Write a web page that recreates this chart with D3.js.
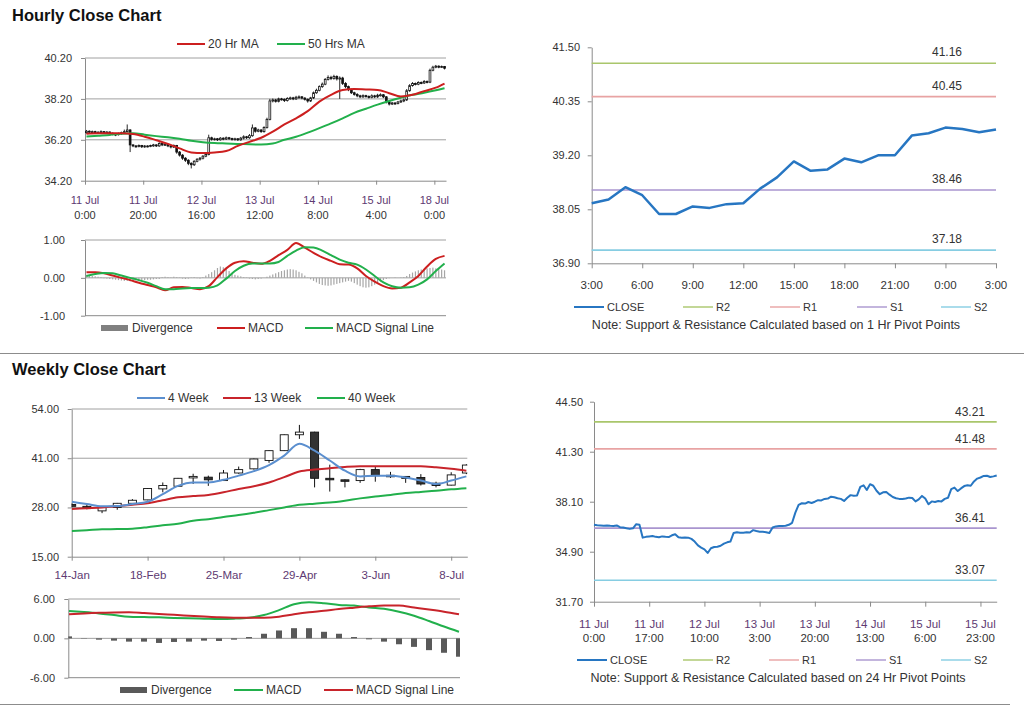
<!DOCTYPE html>
<html><head><meta charset="utf-8">
<script src="https://cdn.jsdelivr.net/npm/d3@7"></script>
<style>
body{margin:0;background:#fff;}
svg{display:block;font-family:Arial,"Liberation Sans",sans-serif;}
</style></head><body>
<svg id="c" width="1024" height="706"></svg>
<script>
// ---------- Hourly candle chart data (124 hourly bars) ----------
const hourOpen = [36.55,36.62,36.58,36.60,36.55,36.57,36.60,36.56,36.58,36.52,
36.48,36.45,36.50,36.55,36.60,36.68,35.95,35.90,35.88,35.92,
35.86,35.90,35.88,35.92,35.95,35.90,36.02,35.95,35.98,35.90,
35.85,35.92,35.60,35.45,35.30,35.20,35.05,34.98,35.15,35.25,
35.30,35.40,35.48,36.30,36.22,36.25,36.20,36.28,36.24,36.30,
36.26,36.22,36.25,36.20,36.28,36.35,36.30,36.40,36.78,36.62,
36.68,36.60,36.80,37.20,38.10,38.15,38.08,38.20,38.18,38.12,
38.22,38.25,38.20,38.28,38.30,38.24,38.18,38.10,38.25,38.50,
38.62,38.80,38.92,39.15,39.25,39.20,39.30,39.18,39.22,38.95,
38.80,38.65,38.50,38.42,38.35,38.30,38.36,38.32,38.28,38.35,
38.30,38.38,38.40,38.30,38.05,37.95,38.00,37.98,38.05,38.10,
38.15,38.60,38.85,38.95,38.92,39.00,38.98,39.05,39.02,39.60,
39.75,39.80,39.76,39.78];
const hourClose = [36.62,36.58,36.60,36.55,36.57,36.60,36.56,36.58,36.52,36.48,
36.45,36.50,36.55,36.60,36.68,35.95,35.90,35.88,35.92,35.86,
35.90,35.88,35.92,35.95,35.90,36.02,35.95,35.98,35.90,35.85,
35.92,35.60,35.45,35.30,35.20,35.05,34.98,35.15,35.25,35.30,
35.40,35.48,36.30,36.22,36.25,36.20,36.28,36.24,36.30,36.26,
36.22,36.25,36.20,36.28,36.35,36.30,36.40,36.78,36.62,36.68,
36.60,36.80,37.20,38.10,38.15,38.08,38.20,38.18,38.12,38.22,
38.25,38.20,38.28,38.30,38.24,38.18,38.10,38.25,38.50,38.62,
38.80,38.92,39.15,39.25,39.20,39.30,39.18,39.22,38.95,38.80,
38.65,38.50,38.42,38.35,38.30,38.36,38.32,38.28,38.35,38.30,
38.38,38.40,38.30,38.05,37.95,38.00,37.98,38.05,38.10,38.15,
38.60,38.85,38.95,38.92,39.00,38.98,39.05,39.02,39.60,39.75,
39.80,39.76,39.78,39.70];
const hourHigh = [36.68,36.66,36.65,36.64,36.62,36.66,36.63,36.62,36.61,36.56,
36.52,36.55,36.60,36.70,36.95,36.72,35.98,35.94,35.97,35.95,
35.94,35.93,35.96,36.00,35.98,36.08,36.05,36.03,36.01,35.94,
35.97,35.95,35.65,35.50,35.35,35.25,35.10,35.20,35.30,35.36,
35.45,35.55,36.45,36.35,36.30,36.29,36.33,36.32,36.36,36.34,
36.30,36.30,36.28,36.34,36.42,36.39,36.48,36.95,36.82,36.74,
36.72,36.86,37.28,38.20,38.22,38.20,38.26,38.25,38.22,38.28,
38.31,38.30,38.35,38.37,38.34,38.28,38.22,38.30,38.56,38.70,
38.86,39.00,39.22,39.35,39.33,39.38,39.35,39.30,39.28,39.02,
38.85,38.70,38.55,38.48,38.40,38.42,38.40,38.37,38.42,38.40,
38.45,38.47,38.44,38.34,38.08,38.05,38.04,38.10,38.16,38.22,
38.68,38.92,39.02,39.00,39.06,39.05,39.12,39.10,39.68,39.82,
39.86,39.84,39.83,39.81];
const hourLow = [36.50,36.53,36.54,36.50,36.51,36.52,36.50,36.52,36.46,36.42,
36.38,36.41,36.45,36.50,36.56,35.60,35.84,35.82,35.83,35.80,
35.81,35.83,35.84,35.86,35.85,35.86,35.89,35.90,35.84,35.78,
35.80,35.52,35.38,35.22,35.12,34.96,34.80,34.92,35.10,35.18,
35.24,35.35,35.44,36.16,36.17,36.14,36.16,36.18,36.19,36.20,
36.16,36.17,36.14,36.15,36.22,36.24,36.25,36.35,36.55,36.57,
36.54,36.55,36.75,37.15,38.03,38.02,38.03,38.12,38.05,38.07,
38.16,38.14,38.15,38.22,38.18,38.12,38.02,38.05,38.20,38.45,
38.57,38.74,38.87,39.10,39.12,39.14,39.10,38.20,38.88,38.72,
38.58,38.44,38.36,38.28,38.24,38.25,38.26,38.22,38.23,38.24,
38.25,38.32,38.24,37.98,37.88,37.90,37.91,37.93,38.00,38.04,
38.10,38.55,38.80,38.86,38.87,38.92,38.93,38.96,38.97,39.55,
39.70,39.70,39.71,39.64];
const hourTickIdx = [0,20,40,60,80,100,120];
const hourTickDate = ["11 Jul","11 Jul","12 Jul","13 Jul","14 Jul","15 Jul","18 Jul"];
const hourTickTime = ["0:00","20:00","16:00","12:00","8:00","4:00","0:00"];
const hourYTicks = [34.20,36.20,38.20,40.20];
const maIdx = [0,4,8,12,16,20,24,28,32,36,40,44,48,52,56,60,64,68,72,76,80,84,88,92,96,100,104,108,112,116,120,123];
const ma20 = [36.50,36.52,36.52,36.52,36.48,36.35,36.18,36.00,35.78,35.58,35.55,35.58,35.65,35.90,36.10,36.30,36.60,36.95,37.25,37.60,38.07,38.40,38.63,38.68,38.66,38.64,38.48,38.32,38.40,38.58,38.75,38.95];
const ma50 = [36.36,36.40,36.44,36.50,36.52,36.45,36.38,36.32,36.25,36.15,36.08,36.04,36.02,36.00,35.98,35.97,36.02,36.20,36.35,36.55,36.77,37.00,37.25,37.52,37.72,37.92,38.10,38.26,38.40,38.50,38.62,38.72];

// ---------- Hourly MACD ----------
const macdIdx = [0,3,6,9,12,15,18,21,24,27,30,33,36,39,42,45,48,51,54,57,60,63,66,69,72,75,78,81,84,87,90,93,96,99,102,105,108,111,114,117,120,123];
const hourMacd = [0.15,0.15,0.12,0.06,0.00,-0.06,-0.13,-0.19,-0.25,-0.33,-0.25,-0.24,-0.27,-0.30,-0.22,0.02,0.25,0.40,0.44,0.40,0.37,0.45,0.60,0.74,0.92,0.80,0.66,0.54,0.45,0.36,0.35,0.25,0.05,-0.10,-0.22,-0.28,-0.26,-0.12,0.05,0.30,0.50,0.58];
const hourSignal = [0.05,0.10,0.13,0.12,0.06,0.00,-0.06,-0.13,-0.22,-0.30,-0.30,-0.28,-0.27,-0.27,-0.26,-0.20,-0.02,0.18,0.32,0.38,0.38,0.38,0.42,0.58,0.72,0.81,0.80,0.72,0.60,0.48,0.40,0.35,0.22,0.05,-0.12,-0.22,-0.26,-0.25,-0.18,-0.04,0.18,0.38];
const hourDiv = [0.08,0.06,0.05,0.04,0.03,0.02,
-0.01,-0.02,-0.03,-0.04,-0.05,-0.06,-0.07,
-0.08,-0.08,-0.09,-0.08,-0.07,-0.07,-0.06,-0.06,-0.05,-0.05,-0.04,-0.03,-0.03,
0.02,0.03,0.02,0.01,0.03,0.02,0.01,-0.02,-0.03,-0.02,0.01,0.02,-0.01,-0.02,0.02,
0.06,0.10,0.15,0.20,0.26,0.30,0.28,0.24,0.18,0.12,
0.08,0.06,0.04,0.02,0.01,-0.02,-0.03,-0.04,
-0.03,-0.02,0.00,0.03,0.06,0.09,0.12,
0.15,0.18,0.20,0.22,0.23,0.22,0.20,0.16,0.12,0.06,0.01,-0.04,
-0.08,-0.12,-0.16,-0.19,-0.20,-0.21,-0.20,-0.18,-0.16,-0.14,-0.12,-0.10,-0.08,
-0.10,-0.14,-0.18,-0.22,-0.25,-0.26,-0.25,-0.22,-0.18,-0.14,-0.10,-0.06,-0.03,
-0.01,0.00,0.01,0.00,0.01,0.02,0.05,
0.10,0.14,0.17,0.20,0.22,0.24,0.25,0.26,0.27,0.25,0.24,0.22,0.20];
const hourMacdTicks = [-1,0,1];

// ---------- 1 Hr pivot chart ----------
const pivHourClose = [38.18,38.26,38.52,38.35,37.95,37.95,38.11,38.08,38.16,38.18,38.49,38.73,39.07,38.87,38.90,39.13,39.05,39.20,39.20,39.62,39.67,39.79,39.76,39.69,39.75];
const pivHourLabels = ["3:00","6:00","9:00","12:00","15:00","18:00","21:00","0:00","3:00"];
const pivHourTicks = [36.90,38.05,39.20,40.35,41.50];
const pivHourLevels = [41.16,40.45,38.46,37.18];

// ---------- Weekly candle chart (27 weeks) ----------
const weekOpen  = [28.8,28.3,27.1,28.0,29.1,30.0,32.9,33.6,35.9,36.0,35.1,37.1,38.2,40.4,43.0,47.2,47.9,35.7,35.3,35.1,38.0,36.5,36.2,35.9,34.4,33.9,37.1];
const weekHigh  = [29.2,29.0,28.1,29.2,30.2,33.1,34.6,35.8,36.9,36.4,37.9,38.8,40.9,43.1,47.3,49.8,48.0,39.3,35.4,38.2,38.8,37.4,36.3,36.8,34.8,37.3,39.4];
const weekLow   = [28.0,27.5,26.5,27.4,28.8,29.9,32.0,33.5,34.2,33.7,35.0,36.9,38.0,39.8,42.9,46.1,33.3,32.2,33.3,34.5,34.8,35.8,34.5,33.8,33.3,33.8,36.8];
const weekClose = [28.3,27.9,28.0,29.1,29.9,33.0,33.8,35.7,36.2,35.3,37.1,38.0,40.8,43.0,47.2,47.9,35.7,35.3,35.1,38.0,36.4,36.2,35.7,34.2,33.8,36.6,39.2];
const ma4w  = [29.5,28.9,28.3,28.4,28.9,29.5,31.5,33.7,34.6,34.6,35.3,36.4,37.6,39.2,41.7,44.8,43.0,40.4,37.7,36.2,36.4,36.4,35.9,35.1,34.2,35.1,36.2];
const ma13w = [27.6,27.8,28.0,28.3,28.7,29.1,29.9,30.7,31.0,31.3,32.0,32.9,33.6,34.6,36.0,37.5,38.0,38.35,38.7,38.9,38.9,38.9,38.9,38.9,38.6,38.2,37.7];
const ma40w = [21.8,22.0,22.25,22.3,22.4,22.8,23.3,23.7,24.5,24.9,25.5,26.0,26.6,27.3,28.0,28.7,29.0,29.3,29.8,30.4,30.9,31.3,31.8,32.1,32.4,32.8,33.1];
const weekTickIdx = [0,5,10,15,20,25];
const weekTickLabels = ["14-Jan","18-Feb","25-Mar","29-Apr","3-Jun","8-Jul"];
const weekYTicks = [15,28,41,54];

// ---------- Weekly MACD ----------
const weekDiv = [0.3,0.05,-0.2,-0.35,-0.5,-0.5,-0.7,-0.55,-0.5,-0.35,-0.4,-0.2,0.2,0.7,1.2,1.55,1.55,1.0,0.7,0.2,-0.15,-0.5,-0.9,-1.3,-1.8,-2.2,-2.8];
const weekMacd = [4.17,4.0,3.8,3.55,3.3,3.25,3.2,3.12,3.05,3.0,2.95,3.0,3.15,3.55,4.3,5.2,5.5,5.35,5.1,5.0,4.7,4.5,4.07,3.45,2.65,1.8,1.0];
const weekSignal = [3.66,3.8,3.9,3.95,3.97,3.85,3.7,3.58,3.45,3.32,3.2,3.15,3.15,3.15,3.3,3.66,3.97,4.2,4.47,4.68,4.88,5.0,5.0,4.7,4.4,4.07,3.66];
const weekMacdTicks = [-6,0,6];

// ---------- 24 Hr pivot chart (125 hourly closes) ----------
const pivDayClose = [36.63,36.60,36.58,36.56,36.58,36.56,36.55,36.58,36.47,36.45,
36.40,36.36,36.40,36.66,36.63,35.80,35.85,35.88,35.91,35.85,
35.82,35.88,35.85,35.84,35.95,36.02,35.82,35.80,35.81,35.80,
35.72,35.55,35.30,35.16,35.05,34.82,35.12,35.20,35.22,35.28,
35.42,35.50,35.55,36.10,36.15,36.12,36.12,36.14,36.13,36.28,
36.22,36.18,36.17,36.15,36.10,36.45,36.52,36.54,36.55,36.56,
36.62,36.75,37.40,37.90,38.00,37.98,38.08,38.02,38.10,38.20,
38.18,38.28,38.30,38.42,38.38,38.32,38.28,38.15,38.35,38.52,
38.48,38.50,39.05,39.15,38.85,39.22,39.12,38.80,38.58,38.70,
38.72,38.55,38.40,38.32,38.28,38.27,38.30,38.36,38.34,38.12,
38.25,38.47,38.30,37.94,38.12,38.08,38.14,38.12,38.28,38.35,
38.90,39.00,38.78,38.95,39.10,39.15,39.12,39.40,39.58,39.65,
39.75,39.76,39.68,39.72,39.78];
const pivDayTickIdx = [0,17,34,51,68,85,102,119];
const pivDayTickDate = ["11 Jul","11 Jul","12 Jul","13 Jul","13 Jul","14 Jul","15 Jul","15 Jul"];
const pivDayTickTime = ["0:00","17:00","10:00","3:00","20:00","13:00","6:00","23:00"];
const pivDayTicks = [31.70,34.90,38.10,41.30,44.50];
const pivDayLevels = [43.21,41.48,36.41,33.07];

const pivNames = ["CLOSE","R2","R1","S1","S2"];
const pivColors = ["#2776c2","#a9c66b","#e8a3a3","#a995cf","#86cde2"];

// ---------- drawing ----------
const svg = d3.select("#c");
const FONT = "Arial, 'Liberation Sans', sans-serif";
const TXT = "#333";
const GRID = "#a0a0a0";
const AX = "#8a8a8a";
const DATEC = "#5e3a72";
const LEGFS = 12;
const fmt2 = d => d.toFixed(2);

function styleAxis(g){
  g.attr("font-family",FONT).attr("font-size",11);
  g.selectAll("path.domain").attr("stroke",AX);
  g.selectAll(".tick line").attr("stroke",AX);
  g.selectAll("text").attr("fill",TXT);
}
function yAxis(y, x0, ticks, labelRight, fmt){
  const g = svg.append("g").attr("transform",`translate(${x0},0)`)
    .call(d3.axisLeft(y).tickValues(ticks).tickFormat(fmt||fmt2).tickSize(4).tickSizeOuter(0).tickPadding(x0-labelRight-4));
  styleAxis(g);
  return g;
}
function grid(y, vals, x0, x1){
  svg.append("g").selectAll("line").data(vals).join("line")
    .attr("x1",x0).attr("x2",x1).attr("y1",d=>y(d)).attr("y2",d=>y(d))
    .attr("stroke",GRID).attr("stroke-width",1);
}
function legendLine(x1,x2,y,color,label,tx,w,fs){
  svg.append("line").attr("x1",x1).attr("x2",x2).attr("y1",y).attr("y2",y).attr("stroke",color).attr("stroke-width",w||2);
  svg.append("text").attr("x",tx).attr("y",y+4).attr("font-family",FONT).attr("font-size",fs||LEGFS).attr("fill",TXT).text(label);
}
function clip(id,x0,y0,x1,y1){
  svg.append("clipPath").attr("id",id).append("rect").attr("x",x0).attr("y",y0).attr("width",x1-x0).attr("height",y1-y0);
}

// Titles and separators
svg.append("text").attr("x",12).attr("y",21).attr("font-family",FONT).attr("font-size",16.5).attr("font-weight","bold").attr("fill","#111").text("Hourly Close Chart");
svg.append("text").attr("x",12).attr("y",375).attr("font-family",FONT).attr("font-size",16.5).attr("font-weight","bold").attr("fill","#111").text("Weekly Close Chart");
svg.append("line").attr("x1",0).attr("x2",1024).attr("y1",353.5).attr("y2",353.5).attr("stroke","#8c8c8c");
svg.append("line").attr("x1",0).attr("x2",1010).attr("y1",704.5).attr("y2",704.5).attr("stroke","#8c8c8c");

// ===== Hourly candles =====
{
  const x = d3.scaleLinear().domain([0,124]).range([85,446]);
  const y = d3.scaleLinear().domain([34.2,40.2]).range([180.7,58]);
  grid(y,[36.2,38.2,40.2],85,446);
  yAxis(y,85,hourYTicks,72);
  const xa = svg.append("g").attr("transform","translate(0,180.7)")
    .call(d3.axisBottom(x).tickValues(hourTickIdx).tickFormat("").tickSize(4).tickSizeOuter(0));
  styleAxis(xa);
  const lab = svg.append("g").attr("font-family",FONT).attr("font-size",11).attr("text-anchor","middle");
  hourTickIdx.forEach((t,k)=>{
    lab.append("text").attr("x",x(t)).attr("y",204).attr("fill",DATEC).text(hourTickDate[k]);
    lab.append("text").attr("x",x(t)).attr("y",219).attr("fill",TXT).text(hourTickTime[k]);
  });
  clip("clipH",85,58,446,180.7);
  const cg = svg.append("g").attr("clip-path","url(#clipH)");
  const idx = d3.range(hourClose.length);
  cg.selectAll("line.w").data(idx).join("line")
    .attr("x1",i=>x(i+0.5)).attr("x2",i=>x(i+0.5))
    .attr("y1",i=>y(hourHigh[i])).attr("y2",i=>y(hourLow[i]))
    .attr("stroke","#111").attr("stroke-width",0.9);
  cg.selectAll("rect.b").data(idx).join("rect")
    .attr("x",i=>x(i+0.5)-0.9).attr("width",1.8)
    .attr("y",i=>y(Math.max(hourOpen[i],hourClose[i])))
    .attr("height",i=>Math.max(1,Math.abs(y(hourOpen[i])-y(hourClose[i]))))
    .attr("fill",i=>hourClose[i]>=hourOpen[i]?"#fff":"#111")
    .attr("stroke","#111").attr("stroke-width",0.8);
  const line = d3.line().x(d=>x(d[0]+0.5)).y(d=>y(d[1])).curve(d3.curveMonotoneX);
  cg.append("path").attr("d",line(maIdx.map((t,k)=>[t,ma50[k]]))).attr("fill","none").attr("stroke","#22b04c").attr("stroke-width",2);
  cg.append("path").attr("d",line(maIdx.map((t,k)=>[t,ma20[k]]))).attr("fill","none").attr("stroke","#cc1f1f").attr("stroke-width",2);
  legendLine(177,205,44,"#cc1f1f","20 Hr MA",208);
  legendLine(277,305,44,"#22b04c","50 Hrs MA",308);
}

// ===== Hourly MACD =====
{
  const x = d3.scaleLinear().domain([0,124]).range([85,446]);
  const y = d3.scaleLinear().domain([-1,1]).range([315.7,240]);
  grid(y,[0,1],85,446);
  yAxis(y,85,hourMacdTicks,65);
  svg.append("line").attr("x1",85).attr("x2",446).attr("y1",315.7).attr("y2",315.7).attr("stroke",AX);
  svg.append("g").selectAll("rect").data(hourDiv).join("rect")
    .attr("x",(d,i)=>x(i+0.5)-0.6).attr("width",1.2)
    .attr("y",d=>y(Math.max(0,d))).attr("height",d=>Math.abs(y(d)-y(0)))
    .attr("fill","#a6a6a6");
  const line = d3.line().x(d=>x(d[0]+0.5)).y(d=>y(d[1])).curve(d3.curveMonotoneX);
  svg.append("path").attr("d",line(macdIdx.map((t,k)=>[t,hourMacd[k]]))).attr("fill","none").attr("stroke","#cc1f1f").attr("stroke-width",2);
  svg.append("path").attr("d",line(macdIdx.map((t,k)=>[t,hourSignal[k]]))).attr("fill","none").attr("stroke","#22b04c").attr("stroke-width",2);
  svg.append("rect").attr("x",101).attr("y",325).attr("width",27).attr("height",6).attr("fill","#808080");
  svg.append("text").attr("x",132).attr("y",332).attr("font-family",FONT).attr("font-size",LEGFS).attr("fill",TXT).text("Divergence");
  legendLine(217,245,328,"#cc1f1f","MACD",248);
  legendLine(305,333,328,"#22b04c","MACD  Signal Line",336);
}

// ===== pivot chart helper =====
function pivotChart(o){
  const x = d3.scaleLinear().domain(o.xdom).range([o.x0,o.x1]);
  const y = d3.scaleLinear().domain(o.ydom).range([o.y1,o.y0]);
  yAxis(y,o.x0,o.yticks,o.labelRight);
  const xa = svg.append("g").attr("transform",`translate(0,${o.y1})`)
    .call(d3.axisBottom(x).tickValues(o.xticks).tickFormat("").tickSize(5).tickSizeOuter(0));
  styleAxis(xa);
  const lab = svg.append("g").attr("font-family",FONT).attr("font-size",11.5).attr("text-anchor","middle");
  o.xticks.forEach((t,k)=>{
    if(o.dates){
      lab.append("text").attr("x",x(t)).attr("y",o.labY).attr("fill",DATEC).text(o.dates[k]);
      lab.append("text").attr("x",x(t)).attr("y",o.labY+14).attr("fill",TXT).text(o.times[k]);
    } else {
      lab.append("text").attr("x",x(t)).attr("y",o.labY).attr("fill",TXT).text(o.times[k]);
    }
  });
  o.levels.forEach((v,k)=>{
    svg.append("line").attr("x1",o.x0).attr("x2",o.x1).attr("y1",y(v)).attr("y2",y(v)).attr("stroke",pivColors[k+1]).attr("stroke-width",1.6);
    svg.append("text").attr("x",o.levelLabX).attr("y",y(v)-o.levelLabGap).attr("text-anchor","middle").attr("font-family",FONT).attr("font-size",12).attr("fill",TXT).text(fmt2(v));
  });
  const line = d3.line().x((d,i)=>x(i)).y(d=>y(d));
  svg.append("path").attr("d",line(o.data)).attr("fill","none").attr("stroke",pivColors[0]).attr("stroke-width",o.lw).attr("stroke-linejoin","round");
  o.legX.forEach((lx,k)=>legendLine(lx,lx+30,o.legY,pivColors[k],pivNames[k],lx+33,k===0?2:1.4,11));
  svg.append("text").attr("x",o.noteX).attr("y",o.legY+22).attr("text-anchor","middle").attr("font-family",FONT).attr("font-size",12.5).attr("fill",TXT).text(o.note);
}

pivotChart({xdom:[0,24],x0:591.7,x1:996,ydom:[36.9,41.5],y0:47.3,y1:263.3,yticks:pivHourTicks,labelRight:580,
  xticks:[0,3,6,9,12,15,18,21,24],times:pivHourLabels,labY:289,levels:pivHourLevels,levelLabX:947,levelLabGap:7,
  data:pivHourClose,lw:2.5,legX:[574,683,770,857,941],legY:307,noteX:776,
  note:"Note: Support & Resistance Calculated based on 1 Hr Pivot Points"});

pivotChart({xdom:[0,124],x0:594,x1:996.7,ydom:[31.7,44.5],y0:401.7,y1:601.7,yticks:pivDayTicks,labelRight:583,
  xticks:pivDayTickIdx,dates:pivDayTickDate,times:pivDayTickTime,labY:628,levels:pivDayLevels,levelLabX:970,levelLabGap:6,
  data:pivDayClose,lw:2,legX:[577,683,769,856,941],legY:660,noteX:778,
  note:"Note: Support & Resistance Calculated based on 24 Hr Pivot Points"});

// ===== Weekly candles =====
{
  const x = d3.scaleLinear().domain([0,26.06]).range([71.7,467.3]);
  const y = d3.scaleLinear().domain([15,54]).range([556.7,409]);
  grid(y,[28,41,54],71.7,467.3);
  yAxis(y,71.7,weekYTicks,59);
  const xa = svg.append("g").attr("transform","translate(0,556.7)")
    .call(d3.axisBottom(x).tickValues(weekTickIdx).tickFormat((d,k)=>weekTickLabels[k]).tickSize(4).tickSizeOuter(0).tickPadding(10.5));
  styleAxis(xa);
  xa.selectAll("text").attr("fill",DATEC).attr("font-size",11.5);
  clip("clipW",71.7,409,467.3,556.7);
  const cg = svg.append("g").attr("clip-path","url(#clipW)");
  const idx = d3.range(weekClose.length);
  cg.selectAll("line.w").data(idx).join("line")
    .attr("x1",i=>x(i)).attr("x2",i=>x(i))
    .attr("y1",i=>y(weekHigh[i])).attr("y2",i=>y(weekLow[i]))
    .attr("stroke","#111").attr("stroke-width",1);
  cg.selectAll("rect.b").data(idx).join("rect")
    .attr("x",i=>x(i)-4).attr("width",8)
    .attr("y",i=>y(Math.max(weekOpen[i],weekClose[i])))
    .attr("height",i=>Math.max(1.5,Math.abs(y(weekOpen[i])-y(weekClose[i]))))
    .attr("fill",i=>weekClose[i]>=weekOpen[i]?"#fff":"#333")
    .attr("stroke","#111").attr("stroke-width",0.9);
  const line = d3.line().x((d,i)=>x(i)).y(d=>y(d)).curve(d3.curveMonotoneX);
  cg.append("path").attr("d",line(ma40w)).attr("fill","none").attr("stroke","#22b04c").attr("stroke-width",2);
  cg.append("path").attr("d",line(ma13w)).attr("fill","none").attr("stroke","#c8242b").attr("stroke-width",2);
  cg.append("path").attr("d",line(ma4w)).attr("fill","none").attr("stroke","#5b8fcf").attr("stroke-width",2);
  legendLine(137,165,398,"#5b8fcf","4 Week",168);
  legendLine(223,251,398,"#c8242b","13 Week",254);
  legendLine(317,345,398,"#22b04c","40 Week",348);
}

// ===== Weekly MACD =====
{
  const x = d3.scaleLinear().domain([0,26]).range([69,459]);
  const y = d3.scaleLinear().domain([-6,6]).range([677.7,599]);
  grid(y,[0,6],68.3,460);
  yAxis(y,68.3,weekMacdTicks,55);
  svg.append("line").attr("x1",68.3).attr("x2",460).attr("y1",677.7).attr("y2",677.7).attr("stroke",AX);
  clip("clipWM",68.3,599,460,677.7);
  const cg = svg.append("g").attr("clip-path","url(#clipWM)");
  cg.selectAll("rect").data(weekDiv).join("rect")
    .attr("x",(d,i)=>x(i)-3).attr("width",6)
    .attr("y",d=>y(Math.max(0,d))).attr("height",d=>Math.abs(y(d)-y(0)))
    .attr("fill","#595959");
  const line = d3.line().x((d,i)=>x(i)).y(d=>y(d)).curve(d3.curveMonotoneX);
  cg.append("path").attr("d",line(weekMacd)).attr("fill","none").attr("stroke","#22b04c").attr("stroke-width",2);
  cg.append("path").attr("d",line(weekSignal)).attr("fill","none").attr("stroke","#c8242b").attr("stroke-width",2);
  svg.append("rect").attr("x",120).attr("y",687).attr("width",27).attr("height",6).attr("fill","#595959");
  svg.append("text").attr("x",151).attr("y",694).attr("font-family",FONT).attr("font-size",LEGFS).attr("fill",TXT).text("Divergence");
  legendLine(234,263,690,"#22b04c","MACD",266);
  legendLine(324,353,690,"#c8242b","MACD  Signal Line",356);
}
</script>
</body></html>
